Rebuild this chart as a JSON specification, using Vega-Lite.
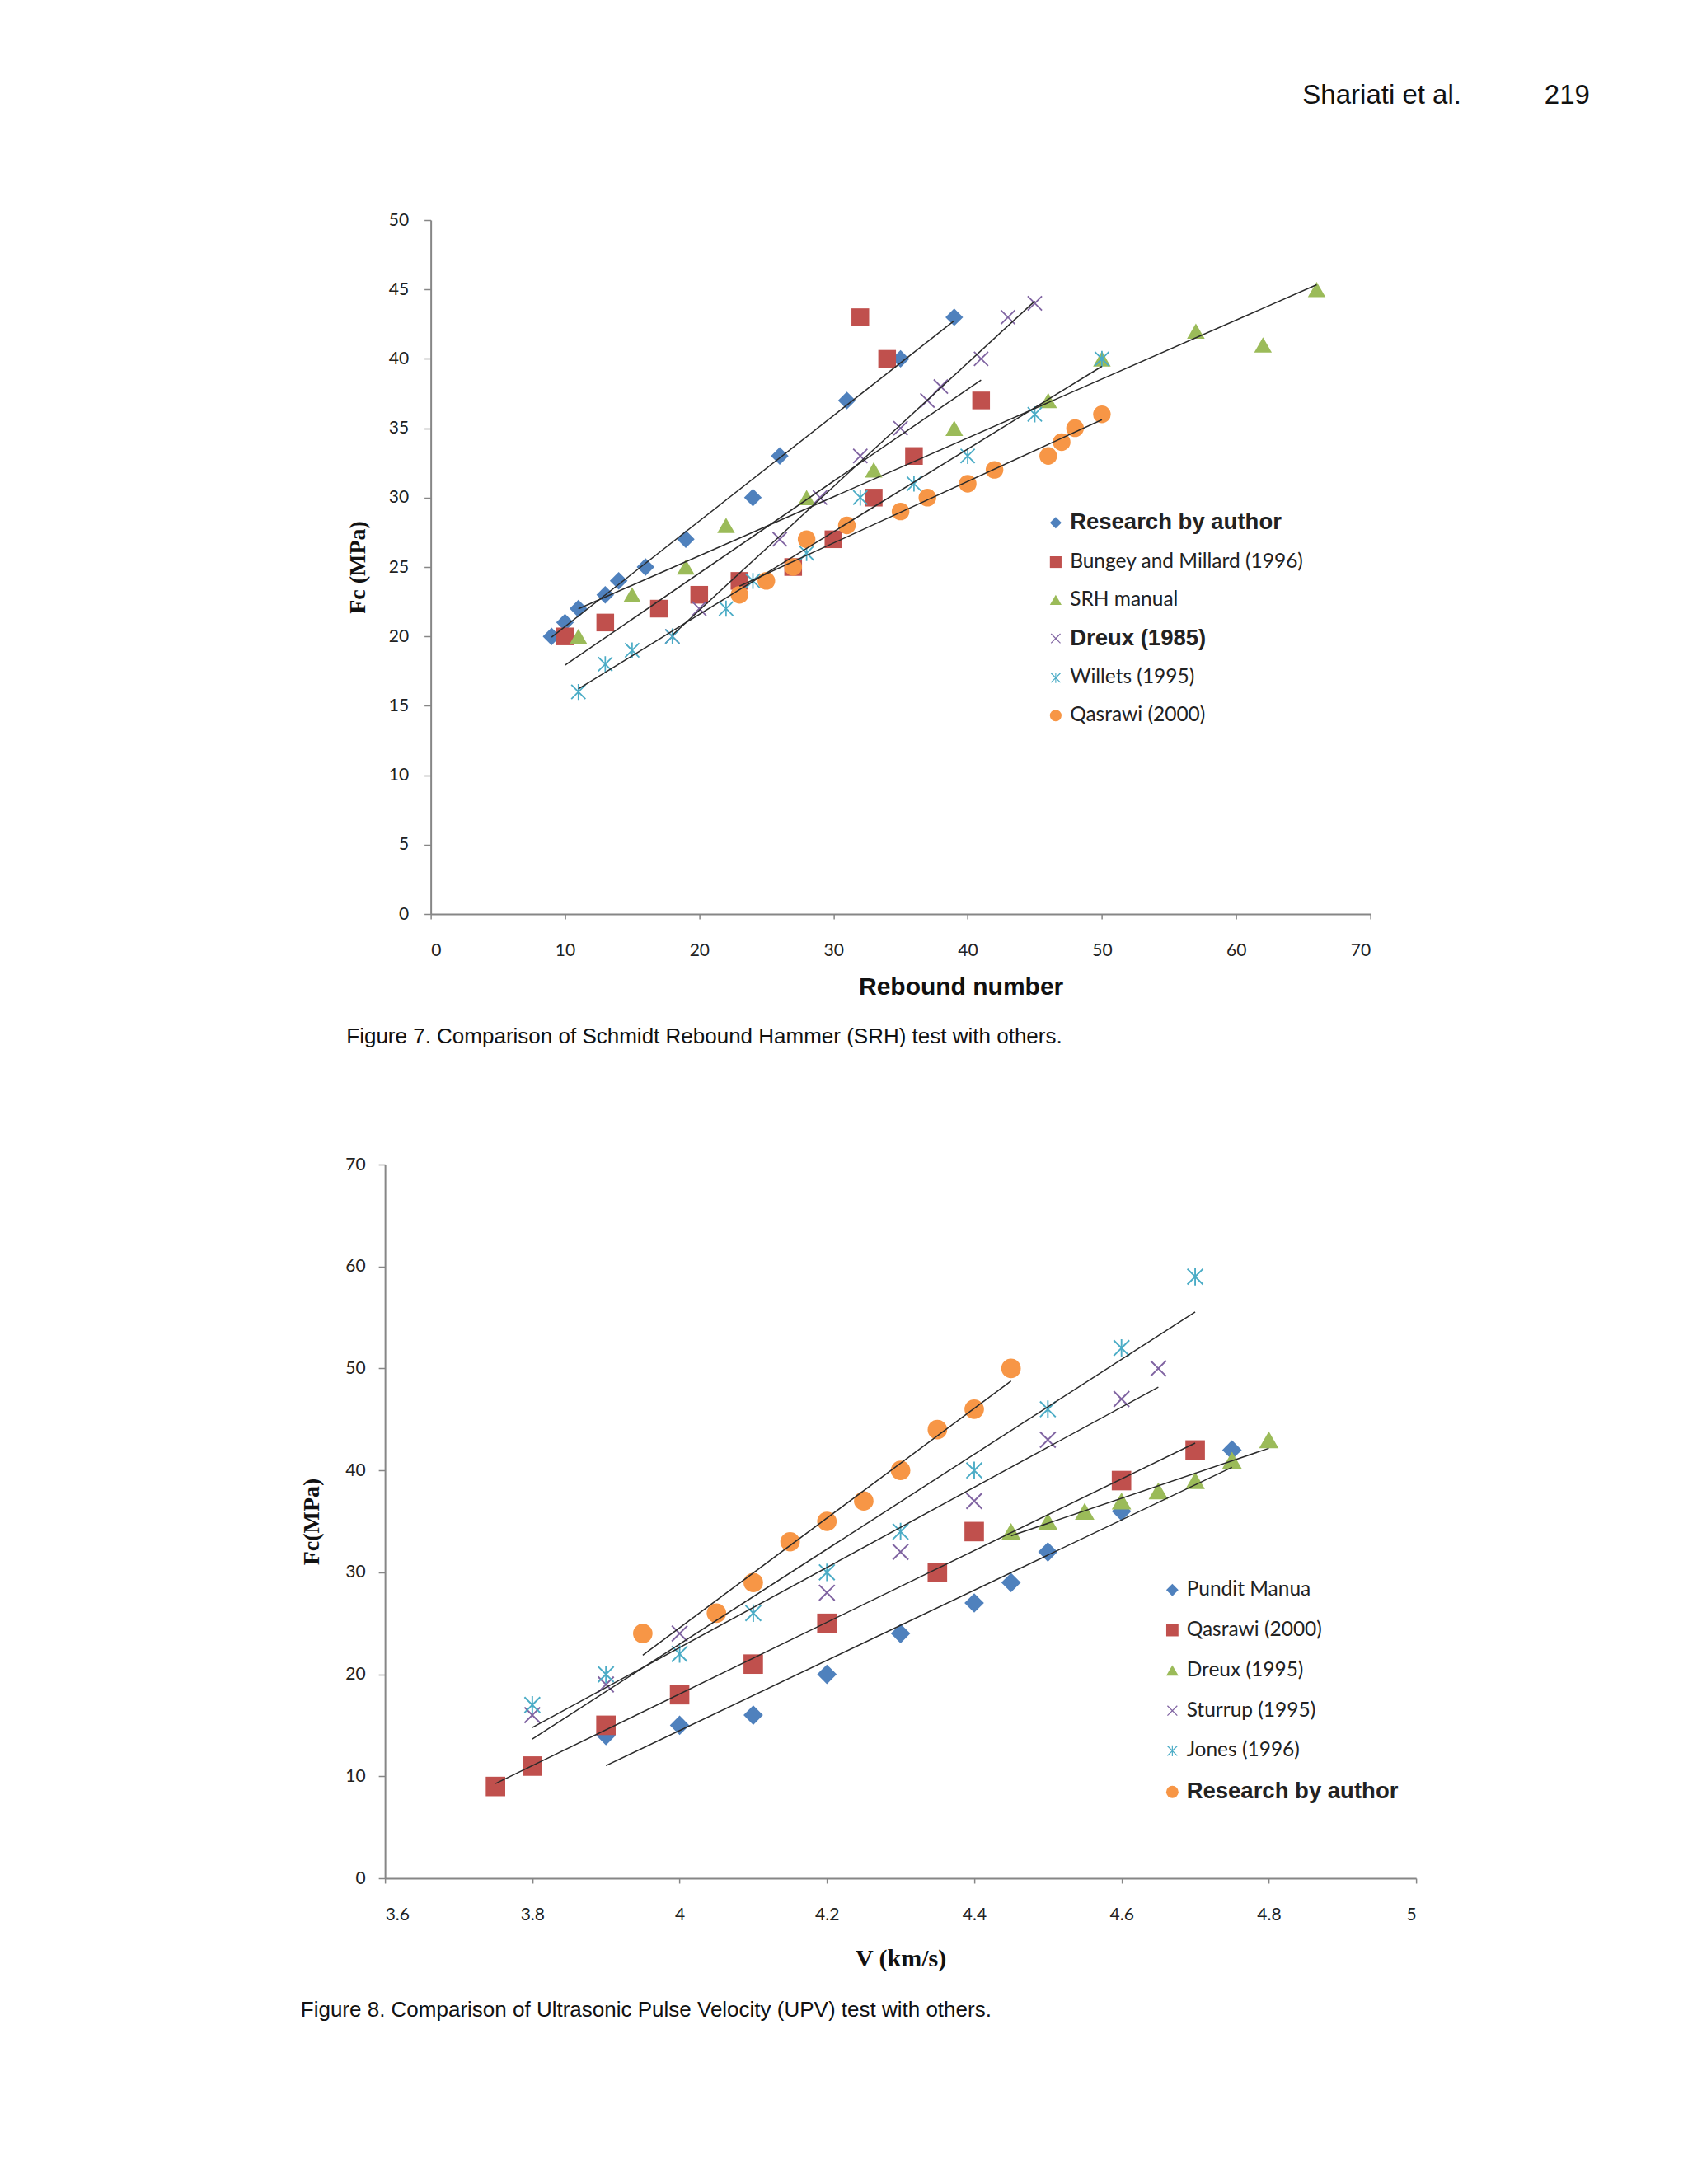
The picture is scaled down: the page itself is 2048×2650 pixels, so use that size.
{
  "$schema": "https://vega.github.io/schema/vega-lite/v6.json",
  "background": "white",
  "padding": {"left": 364, "top": 100, "right": 0, "bottom": 0},
  "title": {
    "text": "Shariati et al.\u00a0\u00a0\u00a0\u00a0\u00a0\u00a0\u00a0\u00a0\u00a0\u00a0\u00a0219",
    "anchor": "end",
    "font": "Liberation Sans",
    "fontSize": 33,
    "fontWeight": "normal",
    "color": "#111",
    "dx": 210,
    "offset": 123
  },
  "config": {
    "view": {"stroke": null},
    "axis": {
      "grid": false,
      "domainColor": "#868686",
      "domainWidth": 2,
      "tickColor": "#868686",
      "tickWidth": 1.5,
      "labelFont": "Lato",
      "labelFontSize": 21,
      "labelColor": "#222",
      "titleColor": "#111"
    },
    "legend": {
      "labelLimit": 0,
      "labelColor": "#222",
      "symbolStrokeWidth": 0,
      "labelOffset": 5
    }
  },
  "resolve": {
    "scale": {"color": "independent", "shape": "independent", "x": "independent", "y": "independent"},
    "legend": {"color": "independent", "shape": "independent"}
  },
  "datasets": {
    "fig7": [
      {"series": "Research by author", "rebound": 9, "fc": 20},
      {"series": "Research by author", "rebound": 10, "fc": 21},
      {"series": "Research by author", "rebound": 11, "fc": 22},
      {"series": "Research by author", "rebound": 13, "fc": 23},
      {"series": "Research by author", "rebound": 14, "fc": 24},
      {"series": "Research by author", "rebound": 16, "fc": 25},
      {"series": "Research by author", "rebound": 19, "fc": 27},
      {"series": "Research by author", "rebound": 24, "fc": 30},
      {"series": "Research by author", "rebound": 26, "fc": 33},
      {"series": "Research by author", "rebound": 31, "fc": 37},
      {"series": "Research by author", "rebound": 35, "fc": 40},
      {"series": "Research by author", "rebound": 39, "fc": 43},
      {"series": "Bungey and Millard (1996)", "rebound": 10, "fc": 20},
      {"series": "Bungey and Millard (1996)", "rebound": 13, "fc": 21},
      {"series": "Bungey and Millard (1996)", "rebound": 17, "fc": 22},
      {"series": "Bungey and Millard (1996)", "rebound": 20, "fc": 23},
      {"series": "Bungey and Millard (1996)", "rebound": 23, "fc": 24},
      {"series": "Bungey and Millard (1996)", "rebound": 27, "fc": 25},
      {"series": "Bungey and Millard (1996)", "rebound": 30, "fc": 27},
      {"series": "Bungey and Millard (1996)", "rebound": 33, "fc": 30},
      {"series": "Bungey and Millard (1996)", "rebound": 36, "fc": 33},
      {"series": "Bungey and Millard (1996)", "rebound": 32, "fc": 43},
      {"series": "Bungey and Millard (1996)", "rebound": 34, "fc": 40},
      {"series": "Bungey and Millard (1996)", "rebound": 41, "fc": 37},
      {"series": "SRH manual", "rebound": 11, "fc": 20},
      {"series": "SRH manual", "rebound": 15, "fc": 23},
      {"series": "SRH manual", "rebound": 19, "fc": 25},
      {"series": "SRH manual", "rebound": 22, "fc": 28},
      {"series": "SRH manual", "rebound": 28, "fc": 30},
      {"series": "SRH manual", "rebound": 33, "fc": 32},
      {"series": "SRH manual", "rebound": 39, "fc": 35},
      {"series": "SRH manual", "rebound": 46, "fc": 37},
      {"series": "SRH manual", "rebound": 50, "fc": 40},
      {"series": "SRH manual", "rebound": 57, "fc": 42},
      {"series": "SRH manual", "rebound": 62, "fc": 41},
      {"series": "SRH manual", "rebound": 66, "fc": 45},
      {"series": "Dreux (1985)", "rebound": 18, "fc": 20},
      {"series": "Dreux (1985)", "rebound": 20, "fc": 22},
      {"series": "Dreux (1985)", "rebound": 26, "fc": 27},
      {"series": "Dreux (1985)", "rebound": 29, "fc": 30},
      {"series": "Dreux (1985)", "rebound": 32, "fc": 33},
      {"series": "Dreux (1985)", "rebound": 35, "fc": 35},
      {"series": "Dreux (1985)", "rebound": 37, "fc": 37},
      {"series": "Dreux (1985)", "rebound": 38, "fc": 38},
      {"series": "Dreux (1985)", "rebound": 41, "fc": 40},
      {"series": "Dreux (1985)", "rebound": 43, "fc": 43},
      {"series": "Dreux (1985)", "rebound": 45, "fc": 44},
      {"series": "Willets (1995)", "rebound": 11, "fc": 16},
      {"series": "Willets (1995)", "rebound": 13, "fc": 18},
      {"series": "Willets (1995)", "rebound": 15, "fc": 19},
      {"series": "Willets (1995)", "rebound": 18, "fc": 20},
      {"series": "Willets (1995)", "rebound": 22, "fc": 22},
      {"series": "Willets (1995)", "rebound": 24, "fc": 24},
      {"series": "Willets (1995)", "rebound": 28, "fc": 26},
      {"series": "Willets (1995)", "rebound": 32, "fc": 30},
      {"series": "Willets (1995)", "rebound": 36, "fc": 31},
      {"series": "Willets (1995)", "rebound": 40, "fc": 33},
      {"series": "Willets (1995)", "rebound": 45, "fc": 36},
      {"series": "Willets (1995)", "rebound": 50, "fc": 40},
      {"series": "Qasrawi (2000)", "rebound": 23, "fc": 23},
      {"series": "Qasrawi (2000)", "rebound": 25, "fc": 24},
      {"series": "Qasrawi (2000)", "rebound": 27, "fc": 25},
      {"series": "Qasrawi (2000)", "rebound": 28, "fc": 27},
      {"series": "Qasrawi (2000)", "rebound": 31, "fc": 28},
      {"series": "Qasrawi (2000)", "rebound": 35, "fc": 29},
      {"series": "Qasrawi (2000)", "rebound": 37, "fc": 30},
      {"series": "Qasrawi (2000)", "rebound": 40, "fc": 31},
      {"series": "Qasrawi (2000)", "rebound": 42, "fc": 32},
      {"series": "Qasrawi (2000)", "rebound": 46, "fc": 33},
      {"series": "Qasrawi (2000)", "rebound": 47, "fc": 34},
      {"series": "Qasrawi (2000)", "rebound": 48, "fc": 35},
      {"series": "Qasrawi (2000)", "rebound": 50, "fc": 36}
    ],
    "fig8": [
      {"series": "Pundit Manua", "v": 3.9, "fc": 14},
      {"series": "Pundit Manua", "v": 4.0, "fc": 15},
      {"series": "Pundit Manua", "v": 4.1, "fc": 16},
      {"series": "Pundit Manua", "v": 4.2, "fc": 20},
      {"series": "Pundit Manua", "v": 4.3, "fc": 24},
      {"series": "Pundit Manua", "v": 4.4, "fc": 27},
      {"series": "Pundit Manua", "v": 4.45, "fc": 29},
      {"series": "Pundit Manua", "v": 4.5, "fc": 32},
      {"series": "Pundit Manua", "v": 4.6, "fc": 36},
      {"series": "Pundit Manua", "v": 4.75, "fc": 42},
      {"series": "Qasrawi (2000)", "v": 3.75, "fc": 9},
      {"series": "Qasrawi (2000)", "v": 3.8, "fc": 11},
      {"series": "Qasrawi (2000)", "v": 3.9, "fc": 15},
      {"series": "Qasrawi (2000)", "v": 4.0, "fc": 18},
      {"series": "Qasrawi (2000)", "v": 4.1, "fc": 21},
      {"series": "Qasrawi (2000)", "v": 4.2, "fc": 25},
      {"series": "Qasrawi (2000)", "v": 4.35, "fc": 30},
      {"series": "Qasrawi (2000)", "v": 4.4, "fc": 34},
      {"series": "Qasrawi (2000)", "v": 4.6, "fc": 39},
      {"series": "Qasrawi (2000)", "v": 4.7, "fc": 42},
      {"series": "Dreux (1995)", "v": 4.45, "fc": 34},
      {"series": "Dreux (1995)", "v": 4.5, "fc": 35},
      {"series": "Dreux (1995)", "v": 4.55, "fc": 36},
      {"series": "Dreux (1995)", "v": 4.6, "fc": 37},
      {"series": "Dreux (1995)", "v": 4.65, "fc": 38},
      {"series": "Dreux (1995)", "v": 4.7, "fc": 39},
      {"series": "Dreux (1995)", "v": 4.75, "fc": 41},
      {"series": "Dreux (1995)", "v": 4.8, "fc": 43},
      {"series": "Sturrup (1995)", "v": 3.8, "fc": 16},
      {"series": "Sturrup (1995)", "v": 3.9, "fc": 19},
      {"series": "Sturrup (1995)", "v": 4.0, "fc": 24},
      {"series": "Sturrup (1995)", "v": 4.2, "fc": 28},
      {"series": "Sturrup (1995)", "v": 4.3, "fc": 32},
      {"series": "Sturrup (1995)", "v": 4.4, "fc": 37},
      {"series": "Sturrup (1995)", "v": 4.5, "fc": 43},
      {"series": "Sturrup (1995)", "v": 4.6, "fc": 47},
      {"series": "Sturrup (1995)", "v": 4.65, "fc": 50},
      {"series": "Jones (1996)", "v": 3.8, "fc": 17},
      {"series": "Jones (1996)", "v": 3.9, "fc": 20},
      {"series": "Jones (1996)", "v": 4.0, "fc": 22},
      {"series": "Jones (1996)", "v": 4.1, "fc": 26},
      {"series": "Jones (1996)", "v": 4.2, "fc": 30},
      {"series": "Jones (1996)", "v": 4.3, "fc": 34},
      {"series": "Jones (1996)", "v": 4.4, "fc": 40},
      {"series": "Jones (1996)", "v": 4.5, "fc": 46},
      {"series": "Jones (1996)", "v": 4.6, "fc": 52},
      {"series": "Jones (1996)", "v": 4.7, "fc": 59},
      {"series": "Research by author", "v": 3.95, "fc": 24},
      {"series": "Research by author", "v": 4.05, "fc": 26},
      {"series": "Research by author", "v": 4.1, "fc": 29},
      {"series": "Research by author", "v": 4.15, "fc": 33},
      {"series": "Research by author", "v": 4.2, "fc": 35},
      {"series": "Research by author", "v": 4.25, "fc": 37},
      {"series": "Research by author", "v": 4.3, "fc": 40},
      {"series": "Research by author", "v": 4.35, "fc": 44},
      {"series": "Research by author", "v": 4.4, "fc": 46},
      {"series": "Research by author", "v": 4.45, "fc": 50}
    ]
  },
  "vconcat": [
    {
      "width": 1140,
      "height": 842,
      "data": {"name": "fig7"},
      "title": {
        "text": "Figure 7. Comparison of Schmidt Rebound Hammer (SRH) test with others.",
        "orient": "bottom",
        "anchor": "start",
        "font": "Liberation Sans",
        "fontSize": 26,
        "fontWeight": "normal",
        "color": "#111",
        "offset": 33
      },
      "encoding": {
        "x": {
          "field": "rebound",
          "type": "quantitative",
          "scale": {"domain": [0, 70], "nice": false, "zero": false},
          "axis": {
            "title": "Rebound number",
            "values": [0, 10, 20, 30, 40, 50, 60, 70],
            "tickSize": 6,
            "labelPadding": 27,
            "titleFont": "Liberation Sans",
            "titleFontSize": 30,
            "titleFontWeight": "bold",
            "titlePadding": 19,
            "titleX": 643
          }
        },
        "y": {
          "field": "fc",
          "type": "quantitative",
          "scale": {"domain": [0, 50], "nice": false},
          "axis": {
            "title": "Fc (MPa)",
            "values": [0, 5, 10, 15, 20, 25, 30, 35, 40, 45, 50],
            "tickSize": 8,
            "labelPadding": 19,
            "titleFont": "Liberation Serif",
            "titleFontSize": 28,
            "titleFontWeight": "bold",
            "titlePadding": 23
          }
        }
      },
      "layer": [
        {
          "mark": {"type": "point", "filled": true, "opacity": 1, "strokeWidth": 0, "size": 460},
          "encoding": {
            "color": {
              "field": "series",
              "type": "nominal",
              "scale": {
                "domain": ["Research by author", "Bungey and Millard (1996)", "SRH manual", "Dreux (1985)", "Willets (1995)", "Qasrawi (2000)"],
                "range": ["#4F81BD", "#C0504D", "#9BBB59", "#8064A2", "#4BACC6", "#F79646"]
              },
              "legend": {
                "title": null,
                "orient": "none",
                "legendX": 746,
                "legendY": 355,
                "symbolSize": 200,
                "rowPadding": 20.8,
                "labelFontSize": {"expr": "datum.label === 'Research by author' || datum.label === 'Dreux (1985)' ? 27.5 : 24.5"},
                "labelFont": {"expr": "datum.label === 'Research by author' || datum.label === 'Dreux (1985)' ? 'Liberation Sans' : 'Lato'"},
                "labelFontWeight": {"expr": "datum.label === 'Research by author' || datum.label === 'Dreux (1985)' ? 'bold' : 'normal'"}
              }
            },
            "shape": {
              "field": "series",
              "type": "nominal",
              "scale": {
                "domain": ["Research by author", "Bungey and Millard (1996)", "SRH manual", "Dreux (1985)", "Willets (1995)", "Qasrawi (2000)"],
                "range": [
                  "diamond",
                  "square",
                  "triangle-up",
                  "M-0.86,-0.74L0.74,0.86L0.86,0.74L-0.74,-0.86ZM-0.74,0.86L0.86,-0.74L0.74,-0.86L-0.86,0.74Z",
                  "M-0.86,-0.74L0.74,0.86L0.86,0.74L-0.74,-0.86ZM-0.74,0.86L0.86,-0.74L0.74,-0.86L-0.86,0.74ZM-0.08,-0.9L-0.08,0.9L0.08,0.9L0.08,-0.9Z",
                  "circle"
                ]
              },
              "legend": {
                "title": null,
                "orient": "none",
                "legendX": 746,
                "legendY": 355,
                "symbolSize": 200,
                "rowPadding": 20.8,
                "labelFontSize": {"expr": "datum.label === 'Research by author' || datum.label === 'Dreux (1985)' ? 27.5 : 24.5"},
                "labelFont": {"expr": "datum.label === 'Research by author' || datum.label === 'Dreux (1985)' ? 'Liberation Sans' : 'Lato'"},
                "labelFontWeight": {"expr": "datum.label === 'Research by author' || datum.label === 'Dreux (1985)' ? 'bold' : 'normal'"}
              }
            }
          }
        },
        {
          "transform": [{"regression": "fc", "on": "rebound", "groupby": ["series"]}],
          "mark": {"type": "line", "color": "#2a2a2a", "strokeWidth": 1.5},
          "encoding": {"detail": {"field": "series", "type": "nominal"}}
        }
      ]
    },
    {
      "width": 1251,
      "height": 866,
      "data": {"name": "fig8"},
      "title": {
        "text": "Figure 8. Comparison of Ultrasonic Pulse Velocity (UPV) test with others.",
        "orient": "bottom",
        "anchor": "start",
        "font": "Liberation Sans",
        "fontSize": 26,
        "fontWeight": "normal",
        "color": "#111",
        "offset": 35
      },
      "encoding": {
        "x": {
          "field": "v",
          "type": "quantitative",
          "scale": {"domain": [3.6, 5], "nice": false, "zero": false},
          "axis": {
            "title": "V (km/s)",
            "values": [3.6, 3.8, 4, 4.2, 4.4, 4.6, 4.8, 5],
            "format": "~g",
            "tickSize": 6,
            "labelPadding": 27,
            "titleFont": "Liberation Serif",
            "titleFontSize": 30,
            "titleFontWeight": "bold",
            "titlePadding": 28
          }
        },
        "y": {
          "field": "fc",
          "type": "quantitative",
          "scale": {"domain": [0, 70], "nice": false},
          "axis": {
            "title": "Fc(MPa)",
            "values": [0, 10, 20, 30, 40, 50, 60, 70],
            "tickSize": 8,
            "labelPadding": 16,
            "titleFont": "Liberation Serif",
            "titleFontSize": 28,
            "titleFontWeight": "bold",
            "titlePadding": 26
          }
        }
      },
      "layer": [
        {
          "mark": {"type": "point", "filled": true, "opacity": 1, "strokeWidth": 0, "size": 560},
          "encoding": {
            "color": {
              "field": "series",
              "type": "nominal",
              "scale": {
                "domain": ["Pundit Manua", "Qasrawi (2000)", "Dreux (1995)", "Sturrup (1995)", "Jones (1996)", "Research by author"],
                "range": ["#4F81BD", "#C0504D", "#9BBB59", "#8064A2", "#4BACC6", "#F79646"]
              },
              "legend": {
                "title": null,
                "orient": "none",
                "legendX": 943,
                "legendY": 504,
                "symbolSize": 220,
                "rowPadding": 23.8,
                "labelFontSize": {"expr": "datum.label === 'Research by author' ? 27.5 : 24.5"},
                "labelFont": {"expr": "datum.label === 'Research by author' ? 'Liberation Sans' : 'Lato'"},
                "labelFontWeight": {"expr": "datum.label === 'Research by author' ? 'bold' : 'normal'"}
              }
            },
            "shape": {
              "field": "series",
              "type": "nominal",
              "scale": {
                "domain": ["Pundit Manua", "Qasrawi (2000)", "Dreux (1995)", "Sturrup (1995)", "Jones (1996)", "Research by author"],
                "range": [
                  "diamond",
                  "square",
                  "triangle-up",
                  "M-0.86,-0.74L0.74,0.86L0.86,0.74L-0.74,-0.86ZM-0.74,0.86L0.86,-0.74L0.74,-0.86L-0.86,0.74Z",
                  "M-0.86,-0.74L0.74,0.86L0.86,0.74L-0.74,-0.86ZM-0.74,0.86L0.86,-0.74L0.74,-0.86L-0.86,0.74ZM-0.08,-0.9L-0.08,0.9L0.08,0.9L0.08,-0.9Z",
                  "circle"
                ]
              },
              "legend": {
                "title": null,
                "orient": "none",
                "legendX": 943,
                "legendY": 504,
                "symbolSize": 220,
                "rowPadding": 23.8,
                "labelFontSize": {"expr": "datum.label === 'Research by author' ? 27.5 : 24.5"},
                "labelFont": {"expr": "datum.label === 'Research by author' ? 'Liberation Sans' : 'Lato'"},
                "labelFontWeight": {"expr": "datum.label === 'Research by author' ? 'bold' : 'normal'"}
              }
            }
          }
        },
        {
          "transform": [{"regression": "fc", "on": "v", "groupby": ["series"]}],
          "mark": {"type": "line", "color": "#2a2a2a", "strokeWidth": 1.5},
          "encoding": {"detail": {"field": "series", "type": "nominal"}}
        }
      ]
    }
  ],
  "center": true,
  "spacing": 131
}
